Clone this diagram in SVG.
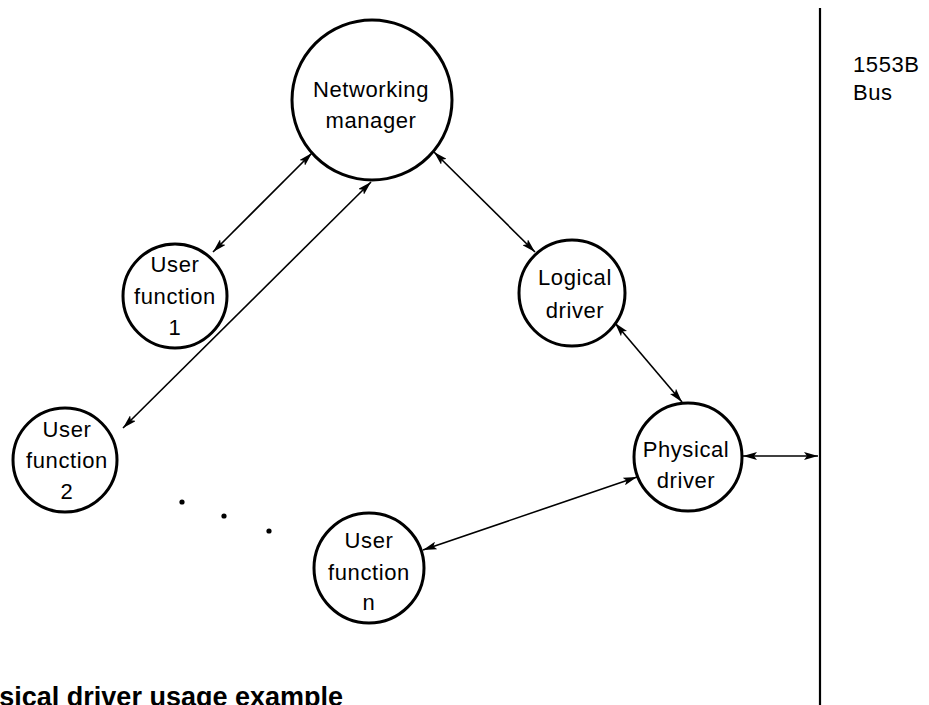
<svg xmlns="http://www.w3.org/2000/svg" width="929" height="705" viewBox="0 0 929 705">
  <style>
    .node circle { fill: #fff; stroke: #000; stroke-width: 3; }
    .label { font-family: "Liberation Sans", Arial, sans-serif; font-size: 22px; letter-spacing: 0.6px; fill: #000; text-anchor: middle; }
    .edge { stroke: #000; stroke-width: 1.6; fill: none; marker-start: url(#tip); marker-end: url(#tip); }
    .bus { stroke: #000; stroke-width: 2.2; }
    .caption { font-family: "Liberation Sans", Arial, sans-serif; font-size: 27px; font-weight: bold; fill: #000; text-anchor: end; }
    .busLabel { font-family: "Liberation Sans", Arial, sans-serif; font-size: 22px; letter-spacing: 0.6px; fill: #000; }
  </style>
  <defs>
    <marker id="tip" viewBox="0 0 14 8" refX="14" refY="4" markerWidth="14" markerHeight="8" markerUnits="userSpaceOnUse" orient="auto-start-reverse">
      <path d="M0,0 L14,4 L0,8 L3,4 z" fill="#000"/>
    </marker>
  </defs>
  <rect width="929" height="705" fill="#fff"/>

  <!-- 1553B bus -->
  <g id="bus">
    <line class="bus" x1="820" y1="8" x2="820" y2="705"/>
    <text class="busLabel" x="853" y="72">1553B</text>
    <text class="busLabel" x="853" y="100">Bus</text>
  </g>

  <!-- connectors -->
  <g id="connectors">
    <line class="edge" x1="312" y1="153" x2="213" y2="252"/>
    <line class="edge" x1="371" y1="182" x2="123" y2="428"/>
    <line class="edge" x1="434" y1="152" x2="535" y2="252"/>
    <line class="edge" x1="615" y1="323" x2="682" y2="402"/>
    <line class="edge" x1="637" y1="477" x2="423" y2="550"/>
    <line class="edge" x1="743" y1="456" x2="818" y2="456"/>
  </g>

  <g id="networking-manager" class="node">
    <circle cx="372" cy="100" r="80"/>
    <text class="label" x="371" y="97">Networking</text>
    <text class="label" x="371" y="128">manager</text>
  </g>

  <g id="user-function-1" class="node">
    <circle cx="175" cy="296" r="52"/>
    <text class="label" x="175" y="272">User</text>
    <text class="label" x="175" y="304">function</text>
    <text class="label" x="175" y="335">1</text>
  </g>

  <g id="user-function-2" class="node">
    <circle cx="65" cy="460" r="52"/>
    <text class="label" x="67" y="437">User</text>
    <text class="label" x="67" y="468">function</text>
    <text class="label" x="67" y="499">2</text>
  </g>

  <g id="logical-driver" class="node">
    <circle cx="572" cy="293" r="53"/>
    <text class="label" x="575" y="285">Logical</text>
    <text class="label" x="575" y="318">driver</text>
  </g>

  <g id="physical-driver" class="node">
    <circle cx="688" cy="457" r="54"/>
    <text class="label" x="686" y="457">Physical</text>
    <text class="label" x="686" y="488">driver</text>
  </g>

  <g id="user-function-n" class="node">
    <circle cx="369" cy="568" r="55"/>
    <text class="label" x="369" y="548">User</text>
    <text class="label" x="369" y="580">function</text>
    <text class="label" x="369" y="610">n</text>
  </g>

  <!-- ellipsis between user functions -->
  <g id="ellipsis" fill="#000">
    <circle cx="182" cy="502" r="2.6"/>
    <circle cx="224" cy="516" r="2.6"/>
    <circle cx="269" cy="531" r="2.6"/>
  </g>

  <text class="caption" x="343" y="706">sical driver usage example</text>
</svg>
